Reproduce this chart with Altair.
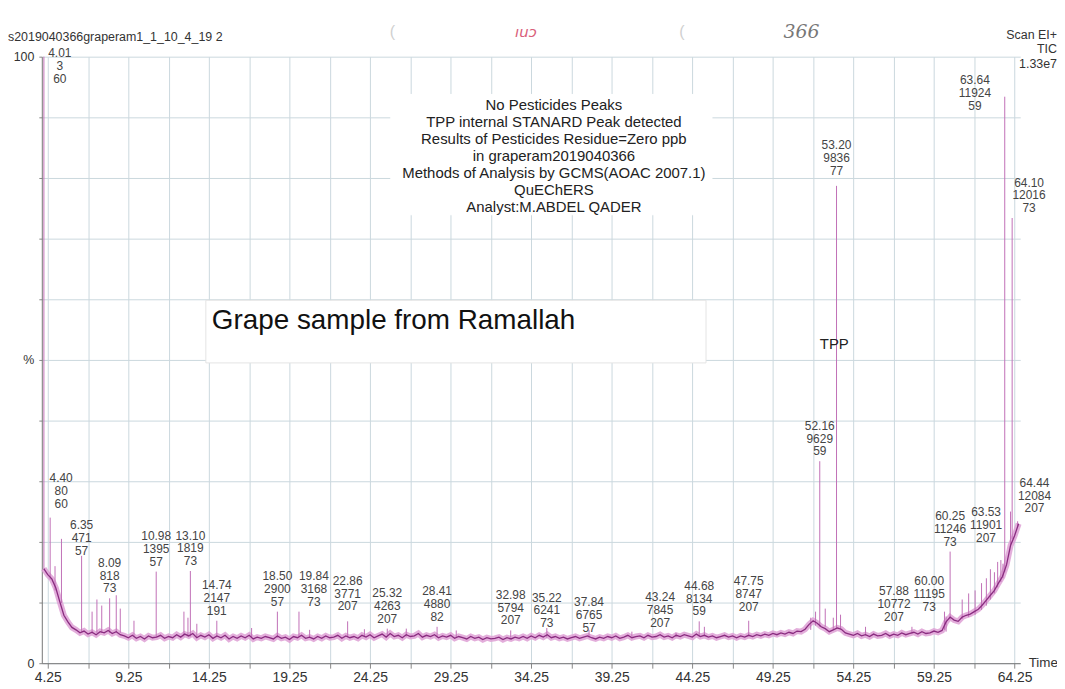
import altair as alt
import pandas as pd

# ---------------- data ----------------
TRACE_START = 4.0      # min
TRACE_STEP = 0.25      # min
# TIC baseline, % of full scale, one value every 0.25 min from 4.00 to 64.50
trace_pct = [
    15.6, 14.6, 13.9, 12.4,   # 4
    10.1, 7.9, 6.8, 5.9,      # 5
    5.5, 5.0, 5.3, 4.8,       # 6
    5.1, 4.7, 5.2, 5.0,       # 7
    5.4, 4.9, 5.2, 4.7,       # 8
    4.5, 4.2, 4.6, 4.1,       # 9
    4.4, 4.0, 4.5, 4.2,       # 10
    4.3, 4.6, 4.1, 4.4,       # 11
    4.2, 4.7, 4.3, 4.8,       # 12
    4.5, 4.9, 4.2, 4.6,       # 13
    4.3, 4.7, 4.1, 4.5,       # 14
    4.2, 4.6, 4.0, 4.4,       # 15
    4.1, 4.5, 4.2, 4.6,       # 16
    4.0, 4.3, 4.1, 4.4,       # 17
    4.2, 4.0, 4.5, 4.1,       # 18
    4.3, 3.9, 4.4, 4.2,       # 19
    4.6, 4.1, 4.3, 4.0,       # 20
    4.4, 4.1, 4.5, 4.2,       # 21
    4.3, 4.6, 4.1, 4.5,       # 22
    4.2, 4.4, 4.1, 4.6,       # 23
    4.3, 4.7, 4.2, 4.5,       # 24
    4.8, 4.3, 4.9, 4.4,       # 25
    4.6, 4.2, 4.7, 4.4,       # 26
    4.5, 4.9, 4.3, 4.6,       # 27
    4.4, 4.7, 4.2, 4.5,       # 28
    4.3, 4.6, 4.1, 4.4,       # 29
    4.2, 4.0, 4.4, 4.1,       # 30
    4.3, 3.9, 4.2, 4.0,       # 31
    4.1, 4.3, 3.9, 4.2,       # 32
    4.0, 4.3, 4.1, 4.4,       # 33
    4.1, 4.5, 4.2, 4.6,       # 34
    4.3, 4.7, 4.2, 4.4,       # 35
    4.1, 4.3, 4.0, 4.2,       # 36
    4.4, 4.1, 4.3, 4.5,       # 37
    4.2, 4.0, 4.3, 4.1,       # 38
    4.4, 4.2, 4.5, 4.1,       # 39
    4.3, 4.6, 4.2, 4.4,       # 40
    4.5, 4.2, 4.6, 4.3,       # 41
    4.4, 4.7, 4.3, 4.5,       # 42
    4.2, 4.6, 4.4, 4.7,       # 43
    4.5, 4.3, 4.8, 4.4,       # 44
    4.6, 4.3, 4.5, 4.2,       # 45
    4.4, 4.6, 4.3, 4.5,       # 46
    4.2, 4.5, 4.3, 4.6,       # 47
    4.4, 4.7, 4.5, 4.8,       # 48
    4.6, 4.9, 4.7, 5.0,       # 49
    4.8, 5.1, 4.9, 5.3,       # 50
    5.2, 5.6, 6.4, 7.0,       # 51
    6.6, 6.0, 5.7, 5.2,       # 52
    5.5, 5.8, 5.6, 5.0,       # 53
    4.8, 4.6, 4.9, 4.5,       # 54
    4.7, 4.4, 4.8, 4.5,       # 55
    4.6, 4.9, 4.5, 4.8,       # 56
    4.6, 5.0, 4.7, 4.9,       # 57
    5.1, 4.8, 5.2, 4.9,       # 58
    5.0, 5.3, 5.1, 5.4,       # 59
    6.8, 7.6, 7.1, 6.9,       # 60
    7.6, 7.9, 8.1, 8.5,       # 61
    8.9, 9.6, 10.4, 11.2,     # 62
    12.0, 13.2, 14.3, 16.2,   # 63
    19.4, 21.0, 23.0,         # 64
]

# labelled peaks: retention time, apex (%), foot (%), scan number, base m/z
peak_time = [4.01, 4.40, 6.35, 8.09, 10.98, 13.10, 14.74, 18.50, 19.84, 22.86,
             25.32, 28.41, 32.98, 35.22, 37.84, 43.24, 44.68, 47.75, 52.16, 53.20,
             57.88, 60.00, 60.25, 63.53, 63.64, 64.10, 64.44]
peak_pct = [100.0, 24.0, 17.7, 10.7, 15.1, 15.2, 7.0, 8.5, 8.5, 6.9,
            5.7, 6.0, 5.4, 5.8, 5.5, 5.0, 6.9, 7.0, 33.3, 78.7,
            6.0, 7.7, 18.4, 16.4, 93.4, 73.4, 23.4]
peak_base = [15.6, 13.8, 5.2, 5.0, 4.3, 4.4, 4.3, 4.2, 4.3, 4.3,
             4.4, 4.3, 4.2, 4.2, 4.2, 4.3, 4.4, 4.5, 6.0, 5.8,
             4.9, 5.2, 7.2, 14.0, 15.0, 20.5, 22.5]
peak_scan = [3, 80, 471, 818, 1395, 1819, 2147, 2900, 3168, 3771,
             4263, 4880, 5794, 6241, 6765, 7845, 8134, 8747, 9629, 9836,
             10772, 11195, 11246, 11901, 11924, 12016, 12084]
peak_mz = [60, 60, 57, 73, 57, 73, 191, 57, 73, 207,
           207, 82, 207, 73, 57, 207, 59, 207, 59, 77,
           207, 73, 73, 207, 59, 73, 207]

# unlabelled spikes: time, apex (%), foot (%)
spike_time = [4.70, 5.10, 7.00, 7.30, 7.60, 8.50, 8.75, 9.60, 12.70, 12.95,
              13.50, 16.90, 20.50, 23.90, 26.50, 29.60, 40.50, 45.00, 51.60, 51.90,
              52.50, 53.00, 53.45, 55.00, 59.90, 61.00, 61.40, 61.80, 62.20, 62.50,
              62.75, 63.00, 63.20, 63.40, 64.00]
spike_pct = [16.0, 20.5, 8.5, 10.5, 9.5, 11.2, 9.0, 7.0, 8.5, 7.5,
             6.5, 5.8, 5.5, 5.6, 5.7, 5.4, 5.2, 6.0, 7.5, 8.5,
             9.0, 7.5, 8.0, 6.0, 8.5, 10.5, 11.5, 12.0, 13.2, 14.0,
             15.5, 15.0, 16.7, 17.0, 25.0]
spike_base = [12.0, 9.9, 4.9, 5.0, 5.0, 5.1, 5.0, 4.4, 4.4, 4.4,
              4.3, 4.2, 4.3, 4.3, 4.4, 4.3, 4.4, 4.5, 5.5, 6.2,
              6.0, 5.5, 5.5, 4.6, 5.5, 7.3, 7.6, 8.0, 8.8, 9.5,
              10.5, 11.5, 12.5, 13.4, 19.5]

x_grid = [4.25, 6.75, 9.25, 11.75, 14.25, 16.75, 19.25, 21.75, 24.25, 26.75,
          29.25, 31.75, 34.25, 36.75, 39.25, 41.75, 44.25, 46.75, 49.25, 51.75,
          54.25, 56.75, 59.25, 61.75, 64.25]
y_grid = [0, 10, 20, 30, 40, 50, 60, 70, 80, 90, 100]

info_lines = ["No Pesticides Peaks",
              "TPP internal STANARD Peak detected",
              "Results of Pesticides Residue=Zero ppb",
              "in graperam2019040366",
              "Methods of Analysis by GCMS(AOAC 2007.1)",
              "QuEChERS",
              "Analyst:M.ABDEL QADER"]

# ---------------- layout / style ----------------
W, H = 984, 610
X_DOMAIN = [3.88, 64.6]
PPM = W / (X_DOMAIN[1] - X_DOMAIN[0])   # px per minute
PPP = H / 100.0                         # px per percent
GAP = 3                                 # px between apex and label block
LINE_H = 12.8                           # label line height
# label nudges in px (dx right, dy down) where the print moves a label aside
NUDGE = {"4.01": (16, 32), "4.40": (11, -4), "6.35": (0, 5), "19.84": (15, 0),
         "22.86": (0, -5), "35.22": (0, 5), "37.84": (0, 8), "43.24": (-16, 0),
         "47.75": (0, -4), "53.20": (0, -5), "57.88": (-18, 0), "60.00": (-17, 0),
         "63.53": (-17, -16), "63.64": (-30, 19), "64.10": (17, 0), "64.44": (17, -3)}
FONT = "Liberation Sans"
CORE = "#8a2c80"
BAND = "#dea0d5"
SPIKE = "#c170b6"

trace = pd.DataFrame({"t": [TRACE_START + TRACE_STEP * i for i in range(len(trace_pct))],
                      "pct": trace_pct})
spikes = pd.DataFrame({"t": peak_time + spike_time,
                       "top": peak_pct + spike_pct,
                       "base": peak_base + spike_base})
rows = []
for t, h, s, m in zip(peak_time, peak_pct, peak_scan, peak_mz):
    key = f"{t:.2f}"
    dx, dy = NUDGE.get(key, (0, 0))
    # the block is 3 lines; its first line's bottom sits 2 line heights above the block bottom
    rows.append({"lt": t + dx / PPM, "ly": h + (GAP - dy + 2 * LINE_H) / PPP,
                 "label": f"{key}\n{s}\n{m}"})
labels = pd.DataFrame(rows)

xscale = alt.Scale(domain=X_DOMAIN, nice=False, zero=False)
yscale = alt.Scale(domain=[0, 100], nice=False)

x_axis = alt.Axis(values=x_grid, grid=True, gridColor="#cbd8de", gridWidth=1,
                  labelExpr="abs((datum.value - 4.25) % 5) < 0.01 ? format(datum.value, '.2f') : ''",
                  labelFontSize=14, labelColor="#333", labelPadding=2, tickSize=5,
                  tickColor="#888", domainColor="#777", labelFont=FONT,
                  title="Time", titleX=W + 8, titleY=-1, titleAlign="left",
                  titleBaseline="middle", titleFontSize=13.5, titleFontWeight="normal",
                  titleColor="#333", titleFont=FONT)
y_axis = alt.Axis(values=y_grid, grid=True, gridColor="#cbd8de", gridWidth=1,
                  labelExpr="datum.value == 0 ? '0' : datum.value == 50 ? '%' : datum.value == 100 ? '100' : ''",
                  labelFontSize=12.5, labelColor="#333", labelPadding=5, tickSize=3,
                  tickColor="#888", domainColor="#777", labelFont=FONT, title="")


def X(field):
    return alt.X(field, type="quantitative", scale=xscale, axis=x_axis, title="Time")


def Y(field):
    return alt.Y(field, type="quantitative", scale=yscale, axis=y_axis, title="")


band = alt.Chart(trace).mark_line(color=BAND, strokeWidth=6, opacity=0.85).encode(
    x=X("t"), y=Y("pct"))
spike_rules = alt.Chart(spikes).mark_rule(color=SPIKE, strokeWidth=1).encode(
    x=X("t"), y=Y("base"), y2="top:Q")
core = alt.Chart(trace).mark_line(color=CORE, strokeWidth=1.3).encode(
    x=X("t"), y=Y("pct"))
peak_text = alt.Chart(labels).mark_text(
    align="center", baseline="bottom", lineBreak="\n", fontSize=12, lineHeight=LINE_H,
    color="#444", font=FONT).encode(
    x=X("lt"), y=Y("ly"), text="label:N")

one = pd.DataFrame({"k": [0]})


def box(x1, x2, y1, y2, stroke="#ffffff"):
    return alt.Chart(one).mark_rect(fill="white", stroke=stroke, strokeWidth=1).encode(
        x=alt.value(x1), x2=alt.value(x2), y=alt.value(y1), y2=alt.value(y2))


def note(text, x, y, **kw):
    style = dict(font=FONT, fontSize=12.5, color="#333", align="left", baseline="middle")
    style.update(kw)
    return alt.Chart(one).mark_text(**style).encode(
        x=alt.value(x), y=alt.value(y), text=alt.value(text))


info = alt.Chart(one).mark_text(font=FONT, fontSize=15, color="#222", align="center",
                                baseline="top", lineHeight=17, lineBreak="\n").encode(
    x=alt.value(515), y=alt.value(42), text=alt.value("\n".join(info_lines)))

layers = [
    band, spike_rules, core,
    box(351, 674, 38, 159),
    box(165, 668, 245, 308, stroke="#e4e4e4"),
    peak_text, info,
    note("Grape sample from Ramallah", 171, 266, fontSize=28, color="#111"),
    note("TPP", 797, 289, fontSize=15, color="#222", align="center"),
    note("s2019040366graperam1_1_10_4_19 2", -34, -19.5),
    note("Scan EI+", 1021, -22, align="right"),
    note("TIC", 1021, -8, align="right"),
    note("1.33e7", 1021, 7, align="right"),
    note("(", 350, -25, fontSize=16, color="#d0d0d0"),
    note("(", 641, -25, fontSize=16, color="#d0d0d0"),
    note("ıuɔ", 476, -25, fontSize=15, color="#d9607a", font="DejaVu Sans", fontStyle="italic"),
    note("366", 764, -25, fontSize=19, color="#777", font="DejaVu Serif", fontStyle="italic",
         align="center"),
]

chart = alt.layer(*layers).properties(
    width=W, height=H,
    padding={"left": 34, "top": 47, "right": 37, "bottom": 24},
    autosize=alt.AutoSizeParams(type="none"),
    background="white",
).configure_view(strokeWidth=0)

chart.save("out.html", embed_options={"renderer": "svg", "actions": False})
